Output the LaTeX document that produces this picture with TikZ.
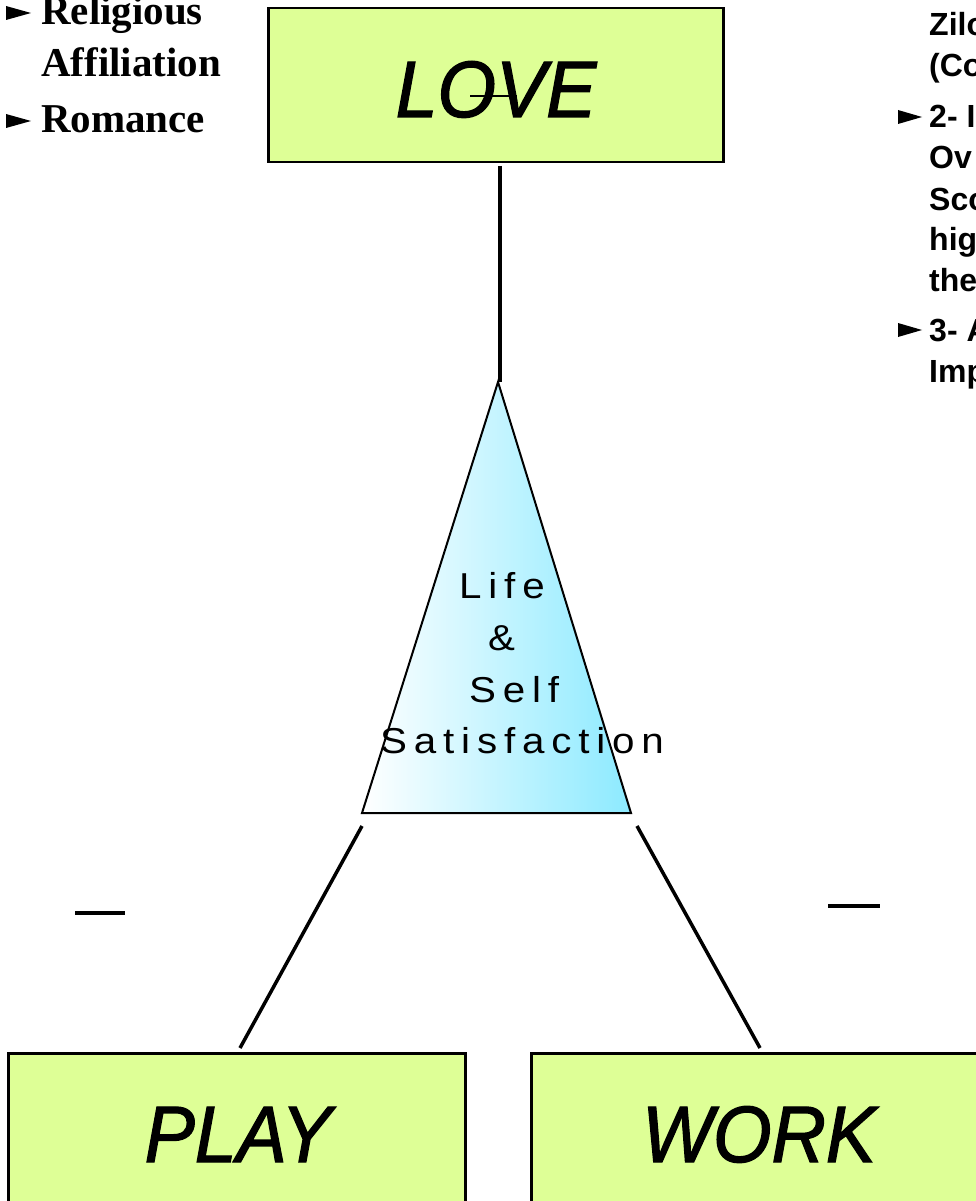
\documentclass[tikz,border=0pt]{standalone}
\usepackage{fontspec}
\setmainfont{Liberation Serif}
\newfontfamily\sansf{Liberation Sans}
\newfontfamily\wordf[FakeBold=1.6, FakeStretch=0.94]{Liberation Sans}
\newfontfamily\spacedf[LetterSpace=19, FakeStretch=1.12]{Liberation Sans}
\definecolor{boxfill}{RGB}{222,255,150}
\definecolor{cyanend}{RGB}{140,234,255}
\tikzset{
  greenbox/.style={draw=black, line width=2.5pt, fill=boxfill, inner sep=0pt, anchor=north west},
  conn/.style={line width=3.5pt},
  bigword/.style={inner sep=0pt, anchor=base, font=\wordf\itshape\fontsize{80}{96}\selectfont},
  lefttxt/.style={inner sep=0pt, anchor=base west, font=\bfseries\fontsize{41}{50}\selectfont},
  righttxt/.style={inner sep=0pt, anchor=base west, font=\sansf\bfseries\fontsize{32}{38}\selectfont},
  tritxt/.style={inner sep=0pt, anchor=base west, font=\spacedf\fontsize{36}{43}\selectfont},
  bulletmark/.style={fill=black},
}
\begin{document}
\begin{tikzpicture}[x=1pt,y=-1pt]
\useasboundingbox (0,0) rectangle (976,1201);
\clip (0,0) rectangle (976,1201);
\fill[white] (0,0) rectangle (976,1201);

% boxes
\node[greenbox, minimum width=455pt, minimum height=154pt] (love) at (267,7) {};
\node[greenbox, minimum width=457pt, minimum height=170pt] (play) at (7,1052) {};
\node[greenbox, minimum width=470pt, minimum height=170pt] (work) at (530,1052) {};

\node[bigword] (lovetxt) at (496,117) {LOVE};
\node[bigword] (playtxt) at (238,1162) {PLAY};
\node[bigword] (worktxt) at (759,1162) {WORK};
\draw[line width=1.8pt] (470,96) -- (517,96);

% triangle
\coordinate (apex) at (498,382);
\coordinate (tbl) at (362,813);
\coordinate (tbr) at (631,813);
\path[draw=black, line width=2pt, left color=white, right color=cyanend, line join=miter]
  (apex) -- (tbr) -- (tbl) -- cycle;

\node[tritxt] (t1) at (459,598) {Life};
\node[tritxt] (t2) at (488,650) {\&};
\node[tritxt] (t3) at (469,702) {Self};
\node[tritxt] (t4) at (380,753) {Satisfaction};

% connectors
\coordinate (lovefoot) at (500,166);
\coordinate (apextop) at (500,382);
\draw[conn] (lovefoot) -- (apextop);
\coordinate (lbase) at (362,826);
\coordinate (ltop) at (240,1048);
\coordinate (rbase) at (637,826);
\coordinate (rtop) at (760,1048);
\draw[conn] (lbase) -- (ltop);
\draw[conn] (rbase) -- (rtop);

% short dashes
\coordinate (d1a) at (75,913);
\coordinate (d1b) at (125,913);
\coordinate (d2a) at (828,906);
\coordinate (d2b) at (880,906);
\draw[conn] (d1a) -- (d1b);
\draw[conn] (d2a) -- (d2b);

% left text
\fill[bulletmark] (6,6) -- (31,13) -- (6,20) -- cycle;
\node[lefttxt] (rel) at (41,25) {Religious};
\node[lefttxt] (aff) at (41,77) {Affiliation};
\fill[bulletmark] (6,114) -- (31,121) -- (6,128) -- cycle;
\node[lefttxt] (rom) at (41,133) {Romance};

% right text
\node[righttxt] (r1) at (929,36) {Zilo};
\node[righttxt] (r2) at (929,77) {(Co};
\fill[bulletmark] (898,110) -- (922,117) -- (898,124) -- cycle;
\node[righttxt] (r3) at (929,128) {2- I};
\node[righttxt] (r4) at (929,169) {Ov};
\node[righttxt] (r5) at (929,210) {Sco};
\node[righttxt] (r6) at (929,250) {hig};
\node[righttxt] (r7) at (929,291) {the};
\fill[bulletmark] (898,323) -- (922,330) -- (898,337) -- cycle;
\node[righttxt] (r8) at (929,341) {3- A};
\node[righttxt] (r9) at (929,382) {Imp};
\end{tikzpicture}
\end{document}
